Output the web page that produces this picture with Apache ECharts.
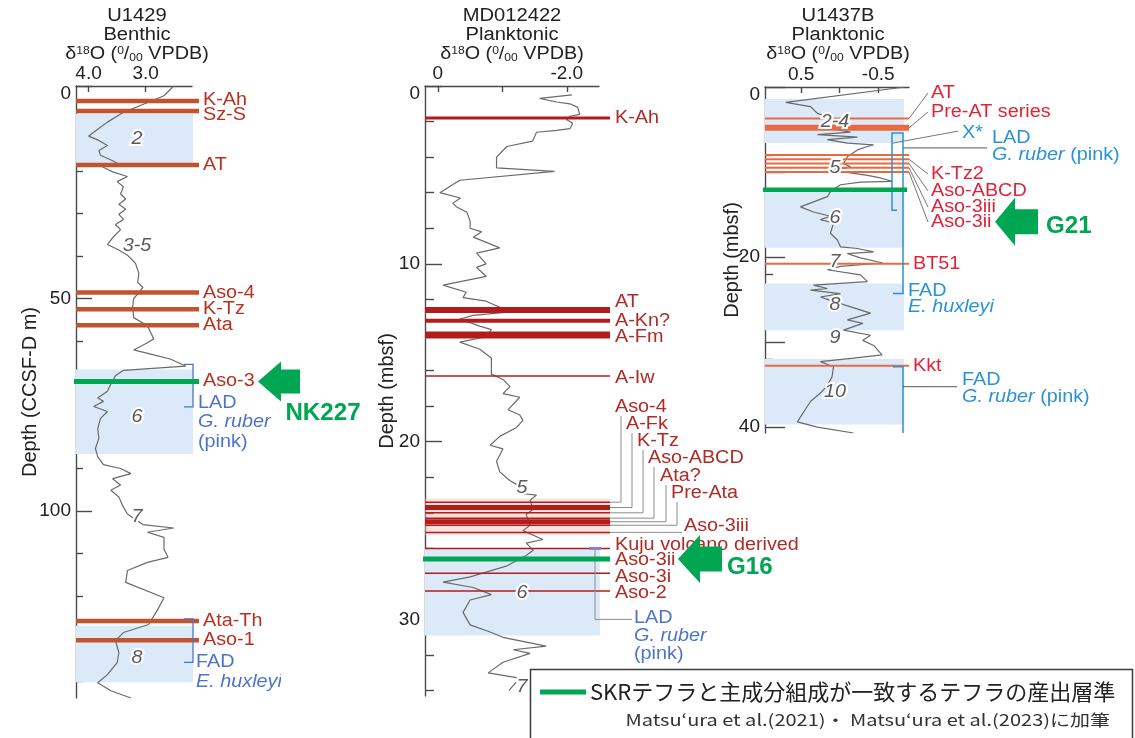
<!DOCTYPE html>
<html><head><meta charset="utf-8">
<script src="https://cdn.jsdelivr.net/npm/echarts@6.0.0/dist/echarts.min.js"></script>
<style>html,body{margin:0;padding:0;background:#fff;overflow:hidden}#main{width:1135px;height:738px}</style>
</head><body><div id="main"></div>
<script>
// ================= DATA =================
// --- U1429 (Benthic) ---
const u1429Depth = [0,2.3,4.3,6.2,8.5,10.2,11.8,12.8,14.0,15.2,16.3,17.7,18.2,19.0,20.2,21.3,22.5,23.7,25.4,26.6,27.8,29.0,30.2,31.4,32.6,33.8,35.4,37.3,38.6,39.8,41.7,44.1,46.2,47.4,48.6,50.0,52.1,54.5,56.4,59.5,60.4,62.1,63.1,64.3,65.9,66.9,68.2,70.1,71.8,73.4,74.2,75.4,76.6,78.2,80.6,82.9,85.3,87.2,89.1,90.0,91.2,92.4,93.9,95.1,96.7,99.1,100.7,103.2,104.0,105.0,106.2,109.0,110.9,112.1,114.0,116.8,120.4,123.2,126.7,128.6,130.5,133.3,135.7,138.5,140.4,142.3,144.0];
const u1429D18O = [2.51,2.68,3.04,3.39,3.67,3.84,4.0,3.82,3.67,3.82,3.79,3.56,3.50,3.76,3.58,3.32,3.50,3.39,3.44,3.35,3.47,3.35,3.47,3.39,3.53,3.44,3.56,3.67,3.47,3.32,3.18,3.12,3.14,3.05,3.12,3.21,3.23,3.21,2.97,2.86,2.97,3.21,2.91,2.56,2.30,3.39,3.53,3.61,3.67,3.84,3.74,3.91,3.67,3.79,3.84,3.82,3.88,3.84,3.74,3.44,3.26,3.58,3.44,3.61,3.47,3.39,3.32,3.05,2.51,2.97,2.68,2.68,2.61,2.97,3.32,3.35,2.68,2.79,2.95,3.39,3.53,3.47,3.50,3.67,3.84,3.61,3.26];
const u1429TephraName = ['K-Ah','Sz-S','AT','Aso-4','K-Tz','Ata','Ata-Th','Aso-1'];
const u1429TephraDepth = [3.5,5.9,18.6,48.6,52.5,56.3,125.9,130.4];
const u1429SkrTephra = 'Aso-3';
const u1429SkrDepth = 69.5;
const u1429SkrCode = 'NK227';
const u1429MisTop = [6.5,66.7,127.0];
const u1429MisBottom = [18.4,86.6,140.3];
const u1429StageName = ['2','3-5','6','7','8'];
const u1429StageDepth = [12.5,37.6,77.9,101.4,134.6];
const u1429DatumName = ['LAD','FAD'];
const u1429DatumTaxon = ['G. ruber','E. huxleyi'];
const u1429DatumNote = ['(pink)',''];
const u1429DatumTop = [65.5,125.4];
const u1429DatumBottom = [75.5,135.6];
const u1429XTicks = [4.0,3.0];
const u1429YLabels = [0,50,100];
const u1429YMinor = [10,20,30,40,60,70,80,90,110,120,130,140];

// --- MD012422 (Planktonic) ---
const mdDepth = [0.5,0.7,0.9,1.0,1.2,1.6,1.7,1.9,2.1,2.4,2.5,2.6,3.1,3.4,4.0,4.6,4.8,5.3,6.0,6.3,6.6,6.8,7.1,7.6,8.0,8.2,8.5,9.1,9.4,10.0,10.2,10.7,11.2,11.6,11.9,12.1,12.7,12.9,13.1,13.5,13.7,14.1,14.4,14.8,15.3,16.2,16.5,16.9,17.3,17.5,18.2,18.5,18.8,19.2,19.7,20.2,20.4,21.1,21.7,22.2,22.4,22.9,23.0,23.3,23.8,24.1,24.7,25.0,25.5,25.7,26.1,26.4,27.0,27.6,27.9,28.2,28.6,28.9,29.6,30.3,30.7,31.0,31.5,31.7,31.9,32.4,33.0,33.3,34.0];
const mdD18O = [-2.08,-1.58,-1.84,-2.05,-2.17,-2.20,-2.05,-2.00,-2.09,-2.05,-1.84,-1.53,-1.47,-1.07,-0.91,-0.91,-1.81,-0.34,-0.03,-0.35,-0.23,-0.29,-0.45,-0.50,-0.50,-0.68,-0.55,-0.96,-0.60,-0.75,-0.60,-0.75,-0.08,-0.44,-0.39,-0.75,-1.12,-0.55,-0.34,-0.65,-0.83,-0.75,-0.34,-0.65,-0.83,-0.83,-1.01,-1.12,-1.01,-1.27,-1.09,-1.27,-1.32,-1.22,-0.96,-0.81,-1.01,-0.91,-0.96,-1.12,-1.22,-1.27,-1.53,-1.43,-1.48,-1.37,-1.43,-1.32,-1.63,-1.37,-1.48,-1.37,-1.06,-0.50,-0.08,-0.55,-0.83,-0.50,-0.39,-0.50,-0.81,-1.01,-1.68,-1.17,-1.43,-1.01,-0.78,-1.27,-1.10];
const mdTephraName = ['K-Ah','AT','A-Kn?','A-Fm','A-Iw','Aso-4','A-Fk','K-Tz','Aso-ABCD','Ata?','Pre-Ata','Aso-3iii','Kuju volcano derived','Aso-3i','Aso-2'];
const mdTephraDepth = [1.8,12.6,13.2,14.0,16.3,23.4,23.7,24.0,24.3,24.5,24.7,25.1,26.0,27.4,28.4];
const mdClusterTop = [23.2];
const mdClusterBottom = [25.25];
const mdSkrTephra = 'Aso-3ii';
const mdSkrDepth = 26.6;
const mdSkrCode = 'G16';
const mdMisTop = [26.0];
const mdMisBottom = [30.9];
const mdStageName = ['5','6','7'];
const mdStageDepth = [22.6,28.5,33.8];
const mdDatumDepth = [26.0];
const mdXTicks = [0,-1,-2];
const mdXLabels = [0,-2];
const mdYLabels = [0,10,20,30];
const mdYMinor = [2,4,6,8,12,14,16,18,22,24,26,28,32,34];

// --- U1437B (Planktonic) ---
const u1437Depth = [0.0,1.8,2.3,3.1,3.5,4.1,4.7,5.3,5.6,5.9,6.2,6.6,6.8,7.0,7.4,8.2,9.0,9.4,9.8,10.4,10.7,11.1,11.2,11.5,12.3,12.9,14.1,14.7,15.2,15.6,16.0,17.2,18.0,18.8,19.0,19.4,19.6,20.1,20.7,21.1,21.5,22.1,22.9,23.3,23.7,23.9,24.3,24.7,25.1,25.6,26.6,27.4,27.8,28.6,29.2,29.8,30.4,31.5,31.9,32.3,32.9,34.1,35.1,36.0,37.0,39.4,40.0,40.7];
const u1437D18O = [-0.85,0.70,0.38,0.29,0.16,-0.05,0.25,-0.14,0.29,-0.23,0.16,-0.10,-0.44,-0.36,-0.23,-0.10,-0.05,-0.14,0.08,-0.36,-0.53,-0.68,-0.27,-0.01,0.12,0.16,0.51,0.34,0.12,0.25,0.08,0.12,0.03,-0.01,-0.23,-0.44,-0.10,-0.27,-0.56,-0.01,0.16,-0.27,-0.36,0.34,0.16,0.38,-0.01,0.25,0.12,-0.05,-0.40,-0.10,-0.30,-0.05,-0.40,-0.30,-0.44,-0.55,-0.18,0.25,0.08,0.10,0.16,0.25,0.38,0.55,0.29,-0.18];
const u1437TephraName = ['AT','Pre-AT series','','K-Tz2','Aso-ABCD','Aso-3iii','Aso-3ii','BT51','Kkt'];
const u1437TephraDepth = [3.7,4.8,8.0,8.5,9.0,9.5,10.0,20.8,32.8];
const u1437SkrDepth = 12.1;
const u1437SkrCode = 'G21';
const u1437MisTop = [1.4,12.2,23.1,32.0];
const u1437MisBottom = [6.6,18.9,28.6,39.7];
const u1437StageName = ['2-4','5','6','7','8','9','10'];
const u1437StageDepth = [4.1,9.5,15.4,20.6,25.6,29.5,35.9];
const u1437DatumName = ['LAD','FAD','FAD'];
const u1437DatumTaxon = ['G. ruber','E. huxleyi','G. ruber'];
const u1437DatumNote = [' (pink)','',' (pink)'];
const u1437DatumTop = [5.4,5.4,32.9];
const u1437DatumBottom = [14.5,24.3,40.7];
const u1437MarkName = ['X*'];
const u1437MarkDepth = [6.6];
const u1437XTicks = [0.5,0,-0.5];
const u1437XLabels = [0.5,-0.5];
const u1437YLabels = [0,20,40];
const u1437YMajorTicks = [0,10,20,30,40];
const u1437YMinor = [2,4,6,8,12,14,16,18,22,24,26,28,32,34,36,38];

const coreName = ['U1429','MD012422','U1437B'];
const coreFauna = ['Benthic','Planktonic','Planktonic'];
const depthName = ['Depth (CCSF-D m)','Depth (mbsf)','Depth (mbsf)'];
const legendText = 'SKRテフラと主成分組成が一致するテフラの産出層準';
const sourceText = 'Matsu‘ura et al.(2021)・ Matsu‘ura et al.(2023)に加筆';

// ================= LAYOUT / STYLE =================
const FONT = 'Arial, "Liberation Sans", Helvetica, sans-serif';
const JP = '"Noto Sans CJK JP", "Noto Sans", sans-serif';
const AX = '#4a4a4a';
const CURVE = '#6a6a6a';
const BAND = '#dce9f8';
const GREEN = '#00a651';
const LEAD = '#8c8c8c';
const RED1_LINE = '#c2532f', RED1_TXT = '#b8301f';
const RED2_LINE = '#b41c1c', RED2_TXT = '#b02a26';
const RED3_LINE = '#e96a40', RED3_TXT = '#e0243a';
const BLUE1 = '#4d74c6', BLUE3 = '#2a93d5';
const FS = 18;      // annotation font size
const SX = 1.1;     // horizontal text stretch of the original figure

const grids = [
  {left:76, top:86, width:116, height:612},
  {left:425, top:86, width:174, height:610},
  {left:765, top:87, width:144, height:346}
];
const xRange = [[2.19,4.22],[-2.5,0.2],[-0.9,0.97]];
const yMax = [144, 34.3, 40.7];

function xAxis(gi, ticks, labels, fmt){
  return {gridIndex:gi, type:'value', position:'top', inverse:true, min:xRange[gi][0], max:xRange[gi][1],
    axisLine:{show:true, onZero:false, lineStyle:{color:AX, width:1.4}},
    axisTick:{show:true, inside:true, length:6, customValues:ticks, lineStyle:{color:AX, width:1.4}},
    axisLabel:{show:true, customValues:labels, formatter:fmt, fontSize:19, color:'#222', margin:3, fontFamily:FONT},
    splitLine:{show:false}};
}
function yAxes(gi, labels, majorTicks, minor, majorLen, minorLen, nameGap){
  return [
    {gridIndex:gi, type:'value', inverse:true, min:0, max:yMax[gi], position:'left',
     axisLine:{show:true, onZero:false, lineStyle:{color:AX, width:1.4}},
     axisTick:{show:true, inside:true, length:majorLen, customValues:majorTicks, lineStyle:{color:AX, width:1.4}},
     axisLabel:{show:true, customValues:labels, fontSize:19, color:'#222', margin:5, fontFamily:FONT,
       formatter:v => v === 0 ? '{z|0}' : String(v),
       rich:{z:{fontSize:19, color:'#222', fontFamily:FONT, padding:[16,0,0,0]}}},
     splitLine:{show:false},
     name:depthName[gi], nameLocation:'middle', nameGap:nameGap, nameRotate:90, nameMoveOverlap:false,
     nameTextStyle:{fontSize:20, color:'#222', fontFamily:FONT}},
    {gridIndex:gi, type:'value', inverse:true, min:0, max:yMax[gi], position:'left',
     axisLine:{show:false, onZero:false},
     axisTick:{show:true, inside:true, length:minorLen, customValues:minor, lineStyle:{color:AX, width:1.4}},
     axisLabel:{show:false}, splitLine:{show:false}}
  ];
}

function cs(gi, data, renderItem, z){
  return {type:'custom', coordinateSystem:'cartesian2d', xAxisIndex:gi, yAxisIndex:gi*2,
    data:data, encode:{x:0, y:1}, renderItem:renderItem, z:z, clip:false, silent:true, animation:false};
}
function curve(gi, depth, vals){
  return {type:'line', xAxisIndex:gi, yAxisIndex:gi*2, data:depth.map((d,i)=>[vals[i], d]),
    showSymbol:false, symbol:'none', lineStyle:{color:CURVE, width:1.2}, z:3, silent:true, animation:false};
}
function txt(x, y, text, color, extra){
  return {type:'text', x:x, y:y, scaleX:SX, style:Object.assign({text:text, fill:color, fontSize:FS, fontFamily:FONT,
    align:'left', verticalAlign:'middle', rich:richTaxon(color)}, extra || {})};
}
function richTaxon(color){
  return {i:{fontStyle:'italic', fontSize:FS, fill:color, fontFamily:FONT}, n:{fontSize:FS, fill:color, fontFamily:FONT}};
}
function bandSeries(gi, tops, bottoms, ext, color, z){
  const xl = xRange[gi][1];
  return cs(gi, tops.map((t,i)=>[xl, t, bottoms[i]]), function(p, api){
    const c = p.coordSys;
    const y0 = api.coord([api.value(0), api.value(1)])[1];
    const y1 = api.coord([api.value(0), api.value(2)])[1];
    return {type:'rect', shape:{x:c.x, y:y0, width:c.width + ext, height:y1 - y0}, style:{fill:color}};
  }, z || 1);
}
function stageSeries(gi, names, depths, xOff){
  const xl = xRange[gi][1];
  return cs(gi, depths.map((d,i)=>[xl, d, i]), function(p, api){
    const c = p.coordSys;
    const y = api.coord([api.value(0), api.value(1)])[1];
    return txt(c.x + xOff, y, names[api.value(2)], '#5a5a5a', {stroke:'#fff', lineWidth:4, fontStyle:'italic', align:'center'});
  }, 7);
}
function tephraSeries(gi, names, depths, cfg){
  const xl = xRange[gi][1];
  return cs(gi, depths.map((d,i)=>[xl, d, i]), function(p, api){
    const c = p.coordSys;
    const name = names[api.value(2)];
    const y = api.coord([api.value(0), api.value(1)])[1];
    const x1 = c.x + c.width + cfg.ext;
    const kids = [{type:'line', shape:{x1:c.x, y1:y, x2:x1, y2:y}, style:{stroke:cfg.line, lineWidth:(cfg.thick[name] || cfg.width)}}];
    if (name) {
      const L = cfg.layout[name] || {};
      const lx = L.x != null ? L.x : x1 + cfg.gap;
      const ly = L.y != null ? L.y : y + (L.dy || 0);
      if (L.lead === 'elbow') kids.push({type:'polyline', shape:{points:[[x1,y],[lx+6,y],[lx+6,ly+9]]}, style:{stroke:LEAD, lineWidth:1, fill:null}});
      if (L.lead === 'flat') kids.push({type:'line', shape:{x1:x1, y1:y, x2:lx-2, y2:y}, style:{stroke:LEAD, lineWidth:1}});
      if (L.lead === 'diag') kids.push({type:'line', shape:{x1:x1, y1:y, x2:lx-3, y2:ly}, style:{stroke:'#777', lineWidth:1}});
      kids.push(txt(lx, ly, name, cfg.text));
    }
    return {type:'group', children:kids};
  }, 5);
}
function skrSeries(gi, tephra, depth, code, cfg){
  return cs(gi, [[xRange[gi][1], depth]], function(p, api){
    const c = p.coordSys;
    const y = api.coord([api.value(0), api.value(1)])[1];
    const x1 = c.x + c.width + cfg.ext;
    const kids = [{type:'line', shape:{x1:c.x - 2, y1:y, x2:x1, y2:y}, style:{stroke:GREEN, lineWidth:cfg.width}}];
    if (tephra) kids.push(txt(x1 + cfg.gap, y + cfg.labelDy, tephra, cfg.text));
    const a = cfg.arrow, tx = c.x + c.width + a.dx, ay = y + a.dy;
    kids.push({type:'polygon', shape:{points:[[tx,ay],[tx+a.hl,ay-a.hh],[tx+a.hl,ay-a.sh],[tx+a.hl+a.sl,ay-a.sh],[tx+a.hl+a.sl,ay+a.sh],[tx+a.hl,ay+a.sh],[tx+a.hl,ay+a.hh]]}, style:{fill:GREEN}});
    kids.push({type:'text', x:tx + a.cx, y:ay + a.cy, scaleX:1.05, style:{text:code, fill:GREEN, fontSize:23, fontWeight:'bold', fontFamily:FONT, align:a.align, verticalAlign:'middle'}});
    return {type:'group', children:kids};
  }, 6);
}

// --- datum (biostratigraphy) brackets ---
const u1429Datums = cs(0, u1429DatumTop.map((t,i)=>[xRange[0][1], t, u1429DatumBottom[i], i]), function(p, api){
  const c = p.coordSys, i = api.value(3);
  const yT = api.coord([api.value(0), api.value(1)])[1], yB = api.coord([api.value(0), api.value(2)])[1];
  const bx = c.x + c.width + 1;
  const kids = [{type:'polyline', shape:{points:[[bx-9,yT],[bx,yT],[bx,yB],[bx-9,yB]]}, style:{stroke:BLUE1, lineWidth:1.3, fill:null}}];
  const lx = bx + (i === 0 ? 5 : 3), l0 = yB + (i === 0 ? -4 : 0);
  const rows = [u1429DatumName[i], '{i|' + u1429DatumTaxon[i] + '}', u1429DatumNote[i]];
  const texts = rows.filter(r => r).map((r, k) => txt(lx, l0 + k*19.5, r, BLUE1));
  kids.push({type:'group', children:texts, clipPath:{type:'rect', shape:{x:lx - 4, y:l0 - 20, width:281 - lx + 4, height:80}}});
  return {type:'group', children:kids};
}, 5);

const mdDatums = cs(1, mdDatumDepth.map(d=>[xRange[1][1], d]), function(p, api){
  const c = p.coordSys;
  const y = api.coord([api.value(0), api.value(1)])[1];
  const r = c.x + c.width;
  return {type:'group', children:[
    {type:'polyline', shape:{points:[[r-4,y],[r-4,y+71],[r+33,y+71]]}, style:{stroke:LEAD, lineWidth:1, fill:null}},
    {type:'rect', shape:{x:r-10, y:y-1.5, width:12, height:3}, style:{fill:'#7b86c2'}},
    txt(r+35, y+70, 'LAD', BLUE1),
    txt(r+35, y+88, '{i|G. ruber}', BLUE1),
    txt(r+35, y+106, '(pink)', BLUE1)
  ]};
}, 5);

const u1437Datums = cs(2, u1437DatumTop.map((t,i)=>[xRange[2][1], t, u1437DatumBottom[i], i]), function(p, api){
  const c = p.coordSys, i = api.value(3);
  const yT = api.coord([api.value(0), api.value(1)])[1], yB = api.coord([api.value(0), api.value(2)])[1];
  const r = c.x + c.width;
  const kids = [];
  const st = {stroke:BLUE3, lineWidth:1.5, fill:null};
  const taxon = '{i|' + u1437DatumTaxon[i] + '}' + (u1437DatumNote[i] ? '{n|' + u1437DatumNote[i] + '}' : '');
  if (i === 0) {
    kids.push({type:'polyline', shape:{points:[[r-12,yT],[r-17,yT],[r-17,yB],[r-12,yB]]}, style:st});
    kids.push({type:'line', shape:{x1:r-6, y1:yT+15, x2:r+78, y2:yT+15}, style:{stroke:'#555', lineWidth:1}});
    kids.push(txt(r+83, yT+5, u1437DatumName[i], BLUE3));
    kids.push(txt(r+83, yT+22, taxon, BLUE3));
  } else if (i === 1) {
    kids.push({type:'polyline', shape:{points:[[r-12,yT],[r-6,yT],[r-6,yB],[r-16,yB]]}, style:st});
    kids.push(txt(r-1, yB-3, u1437DatumName[i], BLUE3));
    kids.push(txt(r-1, yB+13, taxon, BLUE3));
  } else {
    kids.push({type:'polyline', shape:{points:[[r-16,yT],[r-6,yT],[r-6,yB]]}, style:st});
    kids.push({type:'line', shape:{x1:r-6, y1:yT+20, x2:r+48, y2:yT+20}, style:{stroke:'#555', lineWidth:1}});
    kids.push(txt(r+53, yT+13, u1437DatumName[i], BLUE3));
    kids.push(txt(r+53, yT+30, taxon, BLUE3));
  }
  return {type:'group', children:kids};
}, 5);

const u1437Marks = cs(2, u1437MarkDepth.map((d,i)=>[xRange[2][1], d, i]), function(p, api){
  const c = p.coordSys;
  const y = api.coord([api.value(0), api.value(1)])[1];
  const r = c.x + c.width;
  return {type:'group', children:[
    {type:'line', shape:{x1:r-16, y1:y, x2:r+49, y2:y-12}, style:{stroke:'#777', lineWidth:1}},
    txt(r+53, y-10, u1437MarkName[api.value(2)], BLUE3)
  ]};
}, 5);

// --- label layouts ---
const mdLayout = {
  'AT':{dy:-8}, 'A-Kn?':{dy:0}, 'A-Fm':{dy:2}, 'A-Iw':{dy:2},
  'Aso-4':{x:615, y:407, lead:'elbow'}, 'A-Fk':{x:626, y:424, lead:'elbow'}, 'K-Tz':{x:637, y:441, lead:'elbow'},
  'Aso-ABCD':{x:648, y:458, lead:'elbow'}, 'Ata?':{x:660, y:476, lead:'elbow'}, 'Pre-Ata':{x:671, y:493, lead:'elbow'},
  'Aso-3iii':{x:684, y:526, lead:'flat'},
  'Kuju volcano derived':{dy:-3}, 'Aso-3i':{dy:4}, 'Aso-2':{dy:2}
};
const u1437Layout = {
  'AT':{x:931, y:93, lead:'diag'}, 'Pre-AT series':{x:931, y:112, lead:'diag'},
  'K-Tz2':{x:931, y:174, lead:'diag'}, 'Aso-ABCD':{x:931, y:191, lead:'diag'},
  'Aso-3iii':{x:931, y:207, lead:'diag'}, 'Aso-3ii':{x:931, y:222, lead:'diag'}
};

const titleRich = {
  a:{fontSize:18, fontFamily:FONT, fill:'#222'},
  s:{fontSize:11, fontFamily:FONT, fill:'#222', verticalAlign:'top'},
  b:{fontSize:11, fontFamily:FONT, fill:'#222', verticalAlign:'bottom'}
};
const titleX = [137, 512, 838];
const titles = [];
coreName.forEach((n, i) => {
  const base = {fontSize:18, fontFamily:FONT, fill:'#222', align:'center', verticalAlign:'middle'};
  titles.push({type:'text', x:titleX[i], y:16, scaleX:1.12, style:Object.assign({text:n}, base)});
  titles.push({type:'text', x:titleX[i], y:35, scaleX:1.12, style:Object.assign({text:coreFauna[i]}, base)});
  titles.push({type:'text', x:titleX[i], y:54, scaleX:1.1, style:Object.assign({text:'{a|δ}{s|18}{a|O (}{s|0}{a|/}{b|00}{a| VPDB)}', rich:titleRich}, base)});
});

const option = {
  animation:false,
  backgroundColor:'#fff',
  textStyle:{fontFamily:FONT},
  grid: grids.map(g => Object.assign({containLabel:false, outerBoundsMode:'none', show:false}, g)),
  xAxis:[
    xAxis(0, u1429XTicks, u1429XTicks, v => v.toFixed(1)),
    xAxis(1, mdXTicks, mdXLabels, v => v === 0 ? '0' : v.toFixed(1)),
    xAxis(2, u1437XTicks, u1437XLabels, v => v.toFixed(1))
  ],
  yAxis:[].concat(
    yAxes(0, u1429YLabels, u1429YLabels, u1429YMinor, 16, 7, 36),
    yAxes(1, mdYLabels, mdYLabels, mdYMinor, 17, 9, 28),
    yAxes(2, u1437YLabels, u1437YMajorTicks, u1437YMinor, 20, 8, 23)
  ),
  series:[
    bandSeries(0, u1429MisTop, u1429MisBottom, 1, BAND),
    bandSeries(1, mdMisTop, mdMisBottom, 1, BAND),
    bandSeries(1, mdClusterTop, mdClusterBottom, 11, 'rgba(243,190,178,0.45)', 2),
    bandSeries(2, u1437MisTop, u1437MisBottom, -5, BAND),
    curve(0, u1429Depth, u1429D18O),
    curve(1, mdDepth, mdD18O),
    curve(2, u1437Depth, u1437D18O),
    tephraSeries(0, u1429TephraName, u1429TephraDepth, {ext:7, gap:4, width:4.5, thick:{}, line:RED1_LINE, text:RED1_TXT, layout:{'K-Ah':{dy:-1}, 'Sz-S':{dy:4}}}),
    tephraSeries(1, mdTephraName, mdTephraDepth, {ext:11, gap:5, width:1.5, thick:{'K-Ah':3,'AT':6,'A-Kn?':4,'A-Fm':7,'A-Fk':5,'Ata?':5}, line:RED2_LINE, text:RED2_TXT, layout:mdLayout}),
    tephraSeries(2, u1437TephraName, u1437TephraDepth, {ext:0, gap:4, width:2, thick:{'Pre-AT series':6}, line:RED3_LINE, text:RED3_TXT, layout:u1437Layout}),
    skrSeries(0, u1429SkrTephra, u1429SkrDepth, u1429SkrCode, {ext:7, width:5, gap:4, labelDy:0, text:RED1_TXT,
      arrow:{dx:66, dy:0, hl:23, hh:20, sh:12, sl:19, cx:65, cy:32, align:'center'}}),
    skrSeries(1, mdSkrTephra, mdSkrDepth, mdSkrCode, {ext:11, width:5, gap:5, labelDy:1, text:RED2_TXT,
      arrow:{dx:79, dy:0, hl:22, hh:24, sh:12.5, sl:22, cx:49, cy:9, align:'left'}}),
    skrSeries(2, '', u1437SkrDepth, u1437SkrCode, {ext:-2, width:4.5, gap:4, labelDy:0, text:RED3_TXT,
      arrow:{dx:86, dy:32, hl:20, hh:24, sh:12.5, sl:23, cx:51, cy:5, align:'left'}}),
    u1429Datums, mdDatums, u1437Datums, u1437Marks,
    stageSeries(0, u1429StageName, u1429StageDepth, 61),
    stageSeries(1, mdStageName, mdStageDepth, 97),
    stageSeries(2, u1437StageName, u1437StageDepth, 70)
  ],
  graphic: titles.concat([
    {type:'rect', z:100, shape:{x:530.5, y:669.5, width:602, height:80}, style:{fill:'#fff', stroke:'#3a3a3a', lineWidth:1.5}},
    {type:'line', z:101, shape:{x1:540, y1:692, x2:586, y2:692}, style:{stroke:GREEN, lineWidth:5}},
    {type:'text', z:101, x:590, y:692, style:{text:legendText, fontSize:22, fontFamily:JP, fill:'#222', align:'left', verticalAlign:'middle'}},
    {type:'text', z:101, x:1110, y:720, scaleX:1.25, style:{text:sourceText, fontSize:16, fontFamily:JP, fill:'#333', align:'right', verticalAlign:'middle'}}
  ])
};

const chart = echarts.init(document.getElementById('main'), null, {renderer:'canvas'});
chart.setOption(option);
</script></body></html>
